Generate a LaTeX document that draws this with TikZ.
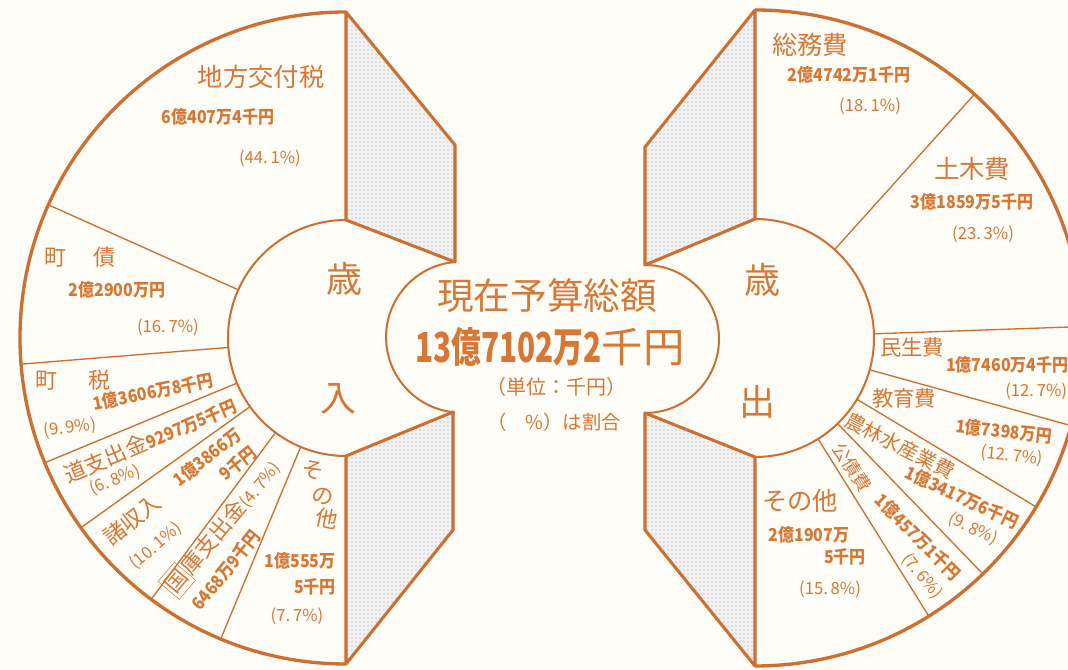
\documentclass[tikz,border=0pt]{standalone}
\usepackage{fontspec}
\setmainfont{Noto Sans CJK JP}
\usetikzlibrary{patterns}
\definecolor{ink}{RGB}{204,112,50}
\definecolor{txt}{RGB}{214,120,52}
\definecolor{paper}{RGB}{253,252,247}
\newcommand{\amtx}[1]{\scalebox{0.9}[1]{\bfseries #1}}
\begin{document}
\begin{tikzpicture}[x=0.75pt,y=0.75pt,
  outerarc/.style={draw=ink,line width=2.5pt},
  hubarc/.style={draw=ink,line width=1.5pt},
  divider/.style={draw=ink,line width=1pt},
  panel/.style={draw=ink,line width=2.3pt,line join=round,preaction={fill=black!5},pattern=dots,pattern color=black!38},
  lbl/.style={text=txt,inner sep=0pt,font=\fontsize{16.5}{18}\selectfont},
  biglbl/.style={text=txt,inner sep=0pt,font=\fontsize{19}{21}\selectfont},
  amt/.style={text=txt,inner sep=0pt,font=\fontsize{13.3}{15}\selectfont},
  pct/.style={text=txt,inner sep=0pt,font=\fontsize{12.5}{14}\selectfont},
  hubl/.style={text=txt,inner sep=0pt,font=\fontsize{27}{30}\selectfont},
]
\useasboundingbox (0,0) rectangle (1068,670);
\fill[paper] (0,0) rectangle (1068,670);
\begin{scope}
\clip (0,0) rectangle (1068,670);
% ---------- left chart (revenue)
\coordinate (L) at (346,332);
\draw[outerarc] (346,658) arc[start angle=90,end angle=270,radius=326];
\draw[hubarc] (346,450) arc[start angle=90,end angle=270,radius=118];
\foreach \a in {155.9,184.6,202.5,215.6,233.3,247.4}
  \draw[divider] ([shift={(\a:118)}]L) -- ([shift={(\a:326)}]L);
\draw[panel] (346,658) -- (455,525) -- (455,408) -- (346,450) -- cycle;
\draw[panel] (346,214) -- (453,258) -- (453,140) -- (346,6) -- cycle;
% ---------- right chart (expenditure)
\coordinate (R) at (755,332);
\draw[outerarc] (755,660) arc[start angle=90,end angle=-90,radius=328];
\draw[hubarc] (755,451) arc[start angle=90,end angle=-90,radius=119];
\foreach \a in {48,2,-15.5,-31,-46,-58}
  \draw[divider] ([shift={(\a:119)}]R) -- ([shift={(\a:328)}]R);
\draw[panel] (755,660) -- (645,523) -- (645,405) -- (755,451) -- cycle;
\draw[panel] (755,213) -- (645,257) -- (645,140) -- (755,4) -- cycle;
% ---------- centre shape
\draw[hubarc] (455,408) arc[start angle=95,end angle=265,radius=75.5];
\draw[hubarc] (645,405) arc[start angle=90,end angle=-90,radius=74];

% ---------- left labels
\node[biglbl] (chiho) at (261,593) {地方交付税};
\node[amt] (chihoA) at (218,553) {\amtx{6億407万4千円}};
\node[pct] (chihoP) at (270,512) {(44.\,1\%)};
\node[lbl] (chosai) at (80,413) {町\hspace{1.2em}債};
\node[amt] (chosaiA) at (117,380) {\amtx{2億2900万円}};
\node[pct] (chosaiP) at (168,343) {(16.\,7\%)};
\node[lbl] (chozei) at (73,290) {町\hspace{1.4em}税};
\node[amt,rotate=11] (chozeiA) at (153,278) {\amtx{1億3606万8千円}};
\node[pct,rotate=8] (chozeiP) at (70,242) {(9.\,9\%)};
\node[text=txt,inner sep=0pt,rotate=23] (doshi) at (150,230) {\fontsize{16.5}{18}\selectfont 道支出金\fontsize{13.3}{15}\selectfont\amtx{9297万5千円}};
\node[pct,rotate=22] (doshiP) at (115,190) {(6.\,8\%)};
\node[lbl,rotate=38] (shoshu) at (132,150) {諸収入};
\node[amt,rotate=38] (shoshuA) at (207,213) {\amtx{1億3866万}};
\node[amt,rotate=38] (shoshuB) at (238,207) {\amtx{9千円}};
\node[pct,rotate=40] (shoshuP) at (156,124) {(10.\,1\%)};
\node[text=txt,inner sep=0pt,rotate=50] (kokko) at (222,143) {\fontsize{16.5}{18}\selectfont \fbox{\kern-2pt 国\kern-2pt}庫支出金\fontsize{12.5}{14}\selectfont (4.\,7\%)};
\node[amt,rotate=51] (kokkoA) at (226,100) {\amtx{6468万9千円}};
\node[lbl,rotate=-12] (sonoL1) at (313,200) {そ};
\node[lbl,rotate=-12] (sonoL2) at (323,174) {の};
\node[lbl,rotate=-12] (sonoL3) at (327,151) {他};
\node[amt] (sonoLA) at (300,109) {\amtx{1億555万}};
\node[amt] (sonoLB) at (315,83) {\amtx{5千円}};
\node[pct] (sonoLP) at (297,54) {(7.\,7\%)};
\node[hubl] (sai1) at (344,391) {歳};
\node[hubl] (nyu) at (338,271) {入};

% ---------- right labels
\node[biglbl] (somu) at (810,625) {総務費};
\node[amt] (somuA) at (849,595) {\amtx{2億4742万1千円}};
\node[pct] (somuP) at (870,564) {(18.\,1\%)};
\node[biglbl] (doboku) at (972,501) {土木費};
\node[amt] (dobokuA) at (972,468) {\amtx{3億1859万5千円}};
\node[pct] (dobokuP) at (983,436) {(23.\,3\%)};
\node[lbl,font=\fontsize{16}{18}\selectfont] (minsei) at (912,323) {民生費};
\node[amt,anchor=west] (minseiA) at (946,305) {\amtx{1億7460万4千円}};
\node[pct,anchor=west] (minseiP) at (1005,279) {(12.\,7\%)};
\node[lbl,font=\fontsize{16}{18}\selectfont] (kyoiku) at (904,272) {教育費};
\node[amt,rotate=-6] (kyoikuA) at (1004,239) {\amtx{1億7398万円}};
\node[pct,rotate=-6] (kyoikuP) at (1012,214) {(12.\,7\%)};
\node[lbl,font=\fontsize{15}{17}\selectfont,rotate=-27] (norin) at (900,224) {農林水産業費};
\node[amt,rotate=-25] (norinA) at (962,173) {\amtx{1億3417万6千円}};
\node[pct,rotate=-25] (norinP) at (973,141) {(9.\,8\%)};
\node[lbl,font=\fontsize{13.5}{15}\selectfont,rotate=-57] (kosai) at (852,203) {公債費};
\node[amt,rotate=-45] (kosaiA) at (918,133) {\amtx{1億457万1千円}};
\node[pct,rotate=-50] (kosaiP) at (922,94) {(7.\,6\%)};
\node[biglbl] (sonoR) at (800,169) {その他};
\node[amt] (sonoRA) at (809,135) {\amtx{2億1907万}};
\node[amt] (sonoRB) at (845,113) {\amtx{5千円}};
\node[pct] (sonoRP) at (830,81) {(15.\,8\%)};
\node[hubl] (sai2) at (762,390) {歳};
\node[hubl] (shutsu) at (757,268) {出};

% ---------- centre labels
\node[text=txt,inner sep=0pt,font=\fontsize{27.5}{30}\selectfont] (title) at (547,374) {現在予算総額};
\node[text=txt,inner sep=0pt,font=\fontsize{31}{34}\selectfont] (total) at (550,323) {\scalebox{0.72}[1]{\bfseries 13億7102万2}千円};
\node[text=txt,inner sep=0pt,font=\fontsize{15}{17}\selectfont] (unit) at (556,283) {（単位：千円）};
\node[text=txt,inner sep=0pt,font=\fontsize{14.5}{16}\selectfont] (ratio) at (554,248) {（　\%）は割合};
\end{scope}
\end{tikzpicture}
\end{document}
